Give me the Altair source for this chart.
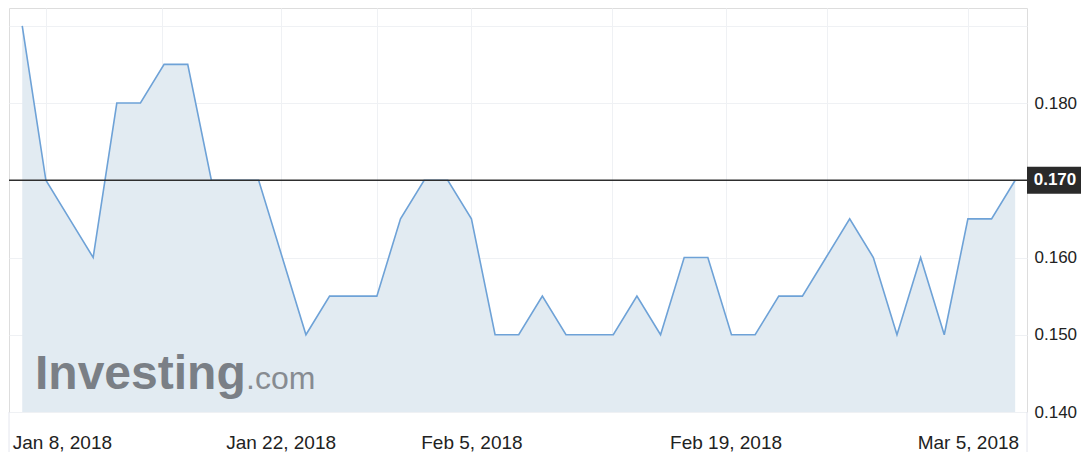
import altair as alt
import pandas as pd

# ---- data (trading-day index, price) ----
idx = list(range(43))
price = [0.190, 0.170, 0.165, 0.160, 0.180, 0.180, 0.185, 0.185, 0.170, 0.170,
         0.170, 0.160, 0.150, 0.155, 0.155, 0.155, 0.165, 0.170, 0.170, 0.165,
         0.150, 0.150, 0.155, 0.150, 0.150, 0.150, 0.155, 0.150, 0.160, 0.160,
         0.150, 0.150, 0.155, 0.155, 0.160, 0.165, 0.160, 0.150, 0.160, 0.150,
         0.165, 0.165, 0.170]

x_ticks = [1, 5.92, 10.93, 15, 19, 24.95, 29.75, 34.03, 40]
x_labels = ["Jan 8, 2018", "", "Jan 22, 2018", "", "Feb 5, 2018", "",
            "Feb 19, 2018", "", "Mar 5, 2018"]
y_ticks = [0.14, 0.15, 0.16, 0.17, 0.18, 0.19]
y_labels = ["0.140", "0.150", "0.160", "", "0.180", ""]
last_value = [0.170]
last_label = ["0.170"]

W, H = 1018, 404
FONT = "Liberation Sans, Arial, Helvetica, sans-serif"
LINE = "#6ea2d7"
FILL = "#e2ebf2"
FRAME = "#e4e6ee"
GRID = "#eff1f4"

df = pd.DataFrame({"i": idx, "p": price})


def label_expr(vals, labs):
    expr = "''"
    for v, l in reversed(list(zip(vals, labs))):
        expr = f"datum.value == {v} ? '{l}' : ({expr})"
    return expr


xscale = alt.Scale(domain=[-0.56, 42.5], nice=False, zero=False)
yscale = alt.Scale(domain=[0.14, 0.1923], nice=False, zero=False)

xaxis = alt.Axis(values=x_ticks, labelExpr=label_expr(x_ticks, x_labels), title=None,
                 grid=True, gridColor=GRID, domain=False, ticks=False, tickSize=0,
                 labelPadding=21, labelFontSize=19, labelColor="#222222", labelFont=FONT,
                 labelFlush=False, labelOverlap=False, labelBound=False,
                 labelOffset={"condition": {"test": f"datum.value == {x_ticks[0]}", "value": 16},
                              "value": 0})
yaxis = alt.Axis(values=y_ticks, labelExpr=label_expr(y_ticks, y_labels), title=None,
                 orient="right", grid=True, gridColor=GRID, domain=False, ticks=False,
                 tickSize=0, labelPadding=7, labelFontSize=17, labelColor="#222222",
                 labelFont=FONT, labelAlign="left", labelBaseline="middle",
                 labelOverlap=False, labelBound=False)

base = alt.Chart(df)

area = base.mark_area(color=FILL, opacity=1,
                      line={"color": LINE, "strokeWidth": 1.6}).encode(
    x=alt.X("i:Q", scale=xscale, axis=xaxis),
    y=alt.Y("p:Q", scale=yscale, axis=yaxis),
    y2=alt.datum(0.14),
)

last_df = pd.DataFrame({"v": last_value, "t": last_label})
hline = alt.Chart(last_df).mark_rule(color="#2e2e2e", strokeWidth=1.6).encode(
    y=alt.Y("v:Q", scale=yscale), x=alt.value(0), x2=alt.value(W)
)
tag_box = alt.Chart(last_df).mark_rect(color="#2a2a2a", yOffset=-13.5, y2Offset=13.5,
                                       clip=False).encode(
    y=alt.Y("v:Q", scale=yscale), y2="v:Q", x=alt.value(W), x2=alt.value(W + 54)
)
tag_text = alt.Chart(last_df).mark_text(color="white", fontWeight="bold", fontSize=17,
                                        font=FONT, align="center", baseline="middle",
                                        clip=False).encode(
    y=alt.Y("v:Q", scale=yscale), x=alt.value(W + 28), text="t:N"
)

frame_ext = alt.Chart(pd.DataFrame({"e": [0, W]})).mark_rule(color=FRAME, strokeWidth=1).encode(
    x=alt.X("e:Q", scale=None), y=alt.value(H), y2=alt.value(H + 40)
)

wm1 = alt.Chart(pd.DataFrame({"t": ["Investing"]})).mark_text(
    font=FONT, fontWeight="bold", fontSize=48, color="#7a7f86", align="left",
    baseline="alphabetic").encode(x=alt.value(26), y=alt.value(381), text="t:N")
wm2 = alt.Chart(pd.DataFrame({"t": [".com"]})).mark_text(
    font=FONT, fontWeight="normal", fontSize=32, color="#878b91", align="left",
    baseline="alphabetic").encode(x=alt.value(237), y=alt.value(381), text="t:N")

chart = alt.layer(area, wm1, wm2, hline, tag_box, tag_text, frame_ext).properties(
    width=W, height=H,
    autosize=alt.AutoSizeParams(type="none"),
    padding={"left": 1, "top": 0, "right": 54, "bottom": 40},
).configure_view(stroke=FRAME, strokeWidth=1).configure(background="white")

chart.save("out.html", embed_options={"renderer": "svg", "actions": False})
